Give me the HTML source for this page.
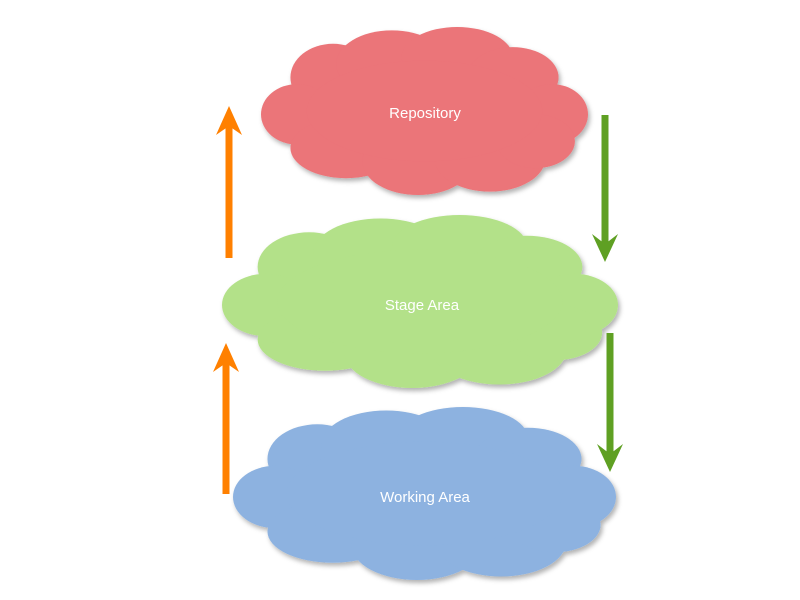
<!DOCTYPE html>
<html><head><style>
html,body{margin:0;padding:0;background:#fff;width:800px;height:600px;overflow:hidden}
</style></head><body>
<svg width="800" height="600" viewBox="0 0 800 600" xmlns="http://www.w3.org/2000/svg">
<defs>
<filter id="sh" x="-10%" y="-10%" width="130%" height="130%">
<feDropShadow dx="2" dy="3" stdDeviation="2.5" flood-color="#000" flood-opacity="0.3"/>
</filter>
<g id="cloud">
<ellipse cx="22" cy="30" rx="13" ry="20"/>
<ellipse cx="40" cy="22" rx="17" ry="20"/>
<ellipse cx="60" cy="18" rx="17" ry="18"/>
<ellipse cx="77" cy="30" rx="14" ry="18"/>
<ellipse cx="11" cy="52" rx="11" ry="18"/>
<ellipse cx="89" cy="52" rx="11" ry="18"/>
<ellipse cx="26" cy="72" rx="17" ry="18"/>
<ellipse cx="48" cy="80" rx="17" ry="20"/>
<ellipse cx="70" cy="78" rx="17" ry="20"/>
<ellipse cx="84" cy="68" rx="12" ry="16"/>
<ellipse cx="50" cy="50" rx="36" ry="30"/>
</g>
</defs>
<g filter="url(#sh)" fill="#eb7479">
<use href="#cloud" transform="translate(261,27) scale(3.27,1.68)"/>
</g>
<g filter="url(#sh)" fill="#b3e189">
<use href="#cloud" transform="translate(222,215) scale(3.96,1.73)"/>
</g>
<g filter="url(#sh)" fill="#8db2e0">
<use href="#cloud" transform="translate(233,407) scale(3.83,1.73)"/>
</g>
<g font-family="Liberation Sans, sans-serif" font-size="15" fill="#fff" text-anchor="middle">
<text x="425" y="118">Repository</text>
<text x="422" y="310">Stage Area</text>
<text x="425" y="502">Working Area</text>
</g>
<g fill="#ff8000">
<rect x="225.5" y="122" width="7" height="136"/>
<polygon points="229,106 242,135 229,126 216,135"/>
<rect x="222.5" y="360" width="7" height="134"/>
<polygon points="226,343 239,372 226,363 213,372"/>
</g>
<g fill="#5fa023">
<rect x="601.5" y="115" width="7" height="130"/>
<polygon points="605,262 592,234 605,244 618,234"/>
<rect x="606.5" y="333" width="7" height="124"/>
<polygon points="610,472 597,444 610,454 623,444"/>
</g>
</svg>
</body></html>
